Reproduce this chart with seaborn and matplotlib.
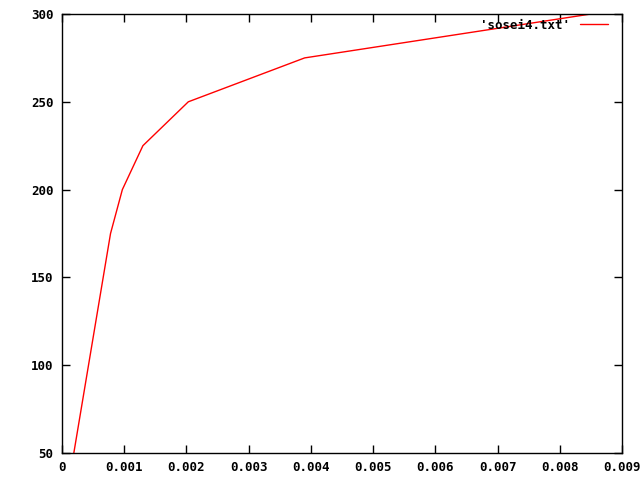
import numpy as np
import pandas as pd
import seaborn as sns
import matplotlib
matplotlib.use("Agg")
import matplotlib.pyplot as plt

# datos
deformacion = [0.00019, 0.00078, 0.00097, 0.0013, 0.00203, 0.0039, 0.0085]
esfuerzo = [50, 175, 200, 225, 250, 275, 300]
serie = "'sosei4.txt'"

xticks = [0, 0.001, 0.002, 0.003, 0.004, 0.005, 0.006, 0.007, 0.008, 0.009]
xlabels = ["0", "0.001", "0.002", "0.003", "0.004", "0.005", "0.006", "0.007", "0.008", "0.009"]
yticks = [50, 100, 150, 200, 250, 300]

datos = pd.DataFrame({"x": deformacion, "y": esfuerzo, "serie": serie})

sns.set_style("white")
plt.rcParams['font.family'] = ['DejaVu Sans Mono']

fig = plt.figure(figsize=(6.4, 4.8), dpi=100)
ax = fig.add_axes([62 / 640, 27 / 480, 560 / 640, 439 / 480])

sns.lineplot(data=datos, x="x", y="y", hue="serie", palette=["#ff0000"],
             sort=False, estimator=None, linewidth=1, ax=ax)

ax.set_xlim(0, 0.009)
ax.set_ylim(50, 300)
ax.set_xticks(xticks)
ax.set_xticklabels(xlabels)
ax.set_yticks(yticks)
ax.set_xlabel("")
ax.set_ylabel("")
ax.tick_params(direction="in", length=6, width=1, top=True, right=True,
               bottom=True, left=True,
               labelsize=9, colors="black", pad=6)
for lbl in ax.get_xticklabels() + ax.get_yticklabels():
    lbl.set_fontweight("bold")
for s in ax.spines.values():
    s.set_color("black")
    s.set_linewidth(1)

leg = ax.legend(loc="upper right", bbox_to_anchor=(0.98, 0.995), frameon=False,
                handlelength=2.3, borderaxespad=0, borderpad=0.2,
                prop={"family": "DejaVu Sans Mono", "weight": "bold", "size": 9},
                markerfirst=False, labelcolor="black")

fig.savefig("out.png", dpi=100)
